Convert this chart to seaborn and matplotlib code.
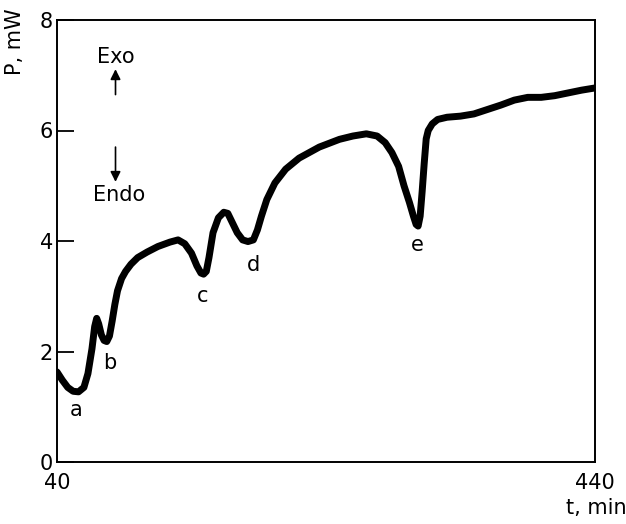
import matplotlib
matplotlib.use("Agg")
import matplotlib.pyplot as plt
import seaborn as sns
import pandas as pd

# time (min) and power (mW)
t = [40, 44, 48, 52, 56, 60, 63, 66, 68, 69.5, 71, 73, 75, 77, 79, 81, 83, 85, 88, 91,
     95, 100, 107, 115, 124, 130, 135, 140, 144, 147, 149, 151, 153, 156, 160, 164, 167,
     170, 174, 178, 182, 186, 189, 192, 196, 202, 210, 220, 235, 250, 260, 270, 278,
     284, 289, 294, 298, 302, 305, 307, 308.5, 310, 311.5, 313, 314.5, 316, 319, 323,
     330, 340, 350, 360, 370, 380, 390, 400, 410, 420, 430, 440]
P = [1.63, 1.48, 1.35, 1.28, 1.27, 1.35, 1.6, 2.05, 2.45, 2.6, 2.5, 2.3, 2.2, 2.18, 2.28,
     2.55, 2.85, 3.1, 3.32, 3.45, 3.58, 3.7, 3.8, 3.9, 3.98, 4.02, 3.95, 3.78, 3.55, 3.42,
     3.4, 3.45, 3.7, 4.15, 4.42, 4.52, 4.5, 4.35, 4.15, 4.02, 3.99, 4.02, 4.2, 4.45, 4.75,
     5.05, 5.3, 5.5, 5.7, 5.84, 5.9, 5.94, 5.9, 5.78, 5.6, 5.35, 5.0, 4.7, 4.45, 4.3, 4.27,
     4.45, 4.9, 5.4, 5.85, 6.0, 6.12, 6.2, 6.24, 6.26, 6.3, 6.38, 6.46, 6.55, 6.6, 6.6,
     6.63, 6.68, 6.73, 6.77]

peak_labels = ["a", "b", "c", "d", "e"]
peak_t = [54, 79.5, 148.5, 186, 308]
peak_P = [0.94, 1.8, 3.0, 3.57, 3.93]

df = pd.DataFrame({"t": t, "P": P})

sns.set_style("ticks")
plt.rcParams["font.family"] = ["DejaVu Sans"]
plt.rcParams["text.color"] = "black"
plt.rcParams["xtick.color"] = "black"
plt.rcParams["ytick.color"] = "black"

fs = 15
fig = plt.figure(figsize=(6.26, 5.24), dpi=100)
ax = fig.add_axes([57 / 626, 1 - 462 / 524, (595 - 57) / 626, (462 - 20) / 524])

sns.lineplot(data=df, x="t", y="P", sort=False, color="black", linewidth=5.0,
             ax=ax, solid_capstyle="round", solid_joinstyle="round")

ax.set_xlim(40, 440)
ax.set_ylim(0, 8)
ax.set_xticks([40, 440])
ax.set_yticks([0, 2, 4, 6, 8])
ax.tick_params(axis="x", length=0, labelsize=fs, pad=8)
ax.tick_params(axis="y", direction="in", length=12, width=1.3, labelsize=fs, pad=3)
for s in ax.spines.values():
    s.set_linewidth(1.4)
    s.set_color("black")
ax.set_xlabel("")
ax.set_ylabel("")

for lab, x, y in zip(peak_labels, peak_t, peak_P):
    ax.text(x, y, lab, ha="center", va="center", fontsize=fs)

ax.text(83.5, 7.33, "Exo", ha="center", va="center", fontsize=fs)
ax.annotate("", xy=(83.5, 7.16), xytext=(83.5, 6.6),
            arrowprops=dict(arrowstyle="-|>", color="black", lw=1.2, mutation_scale=15))
ax.text(86, 4.83, "Endo", ha="center", va="center", fontsize=fs)
ax.annotate("", xy=(83.5, 5.02), xytext=(83.5, 5.75),
            arrowprops=dict(arrowstyle="-|>", color="black", lw=1.2, mutation_scale=15))

fig.text(15 / 626, 1 - 42 / 524, "P, mW", rotation=90, ha="center", va="center", fontsize=fs)
fig.text(596 / 626, 1 - 508 / 524, "t, min", ha="center", va="center", fontsize=fs)

fig.savefig("out.png", dpi=100)
